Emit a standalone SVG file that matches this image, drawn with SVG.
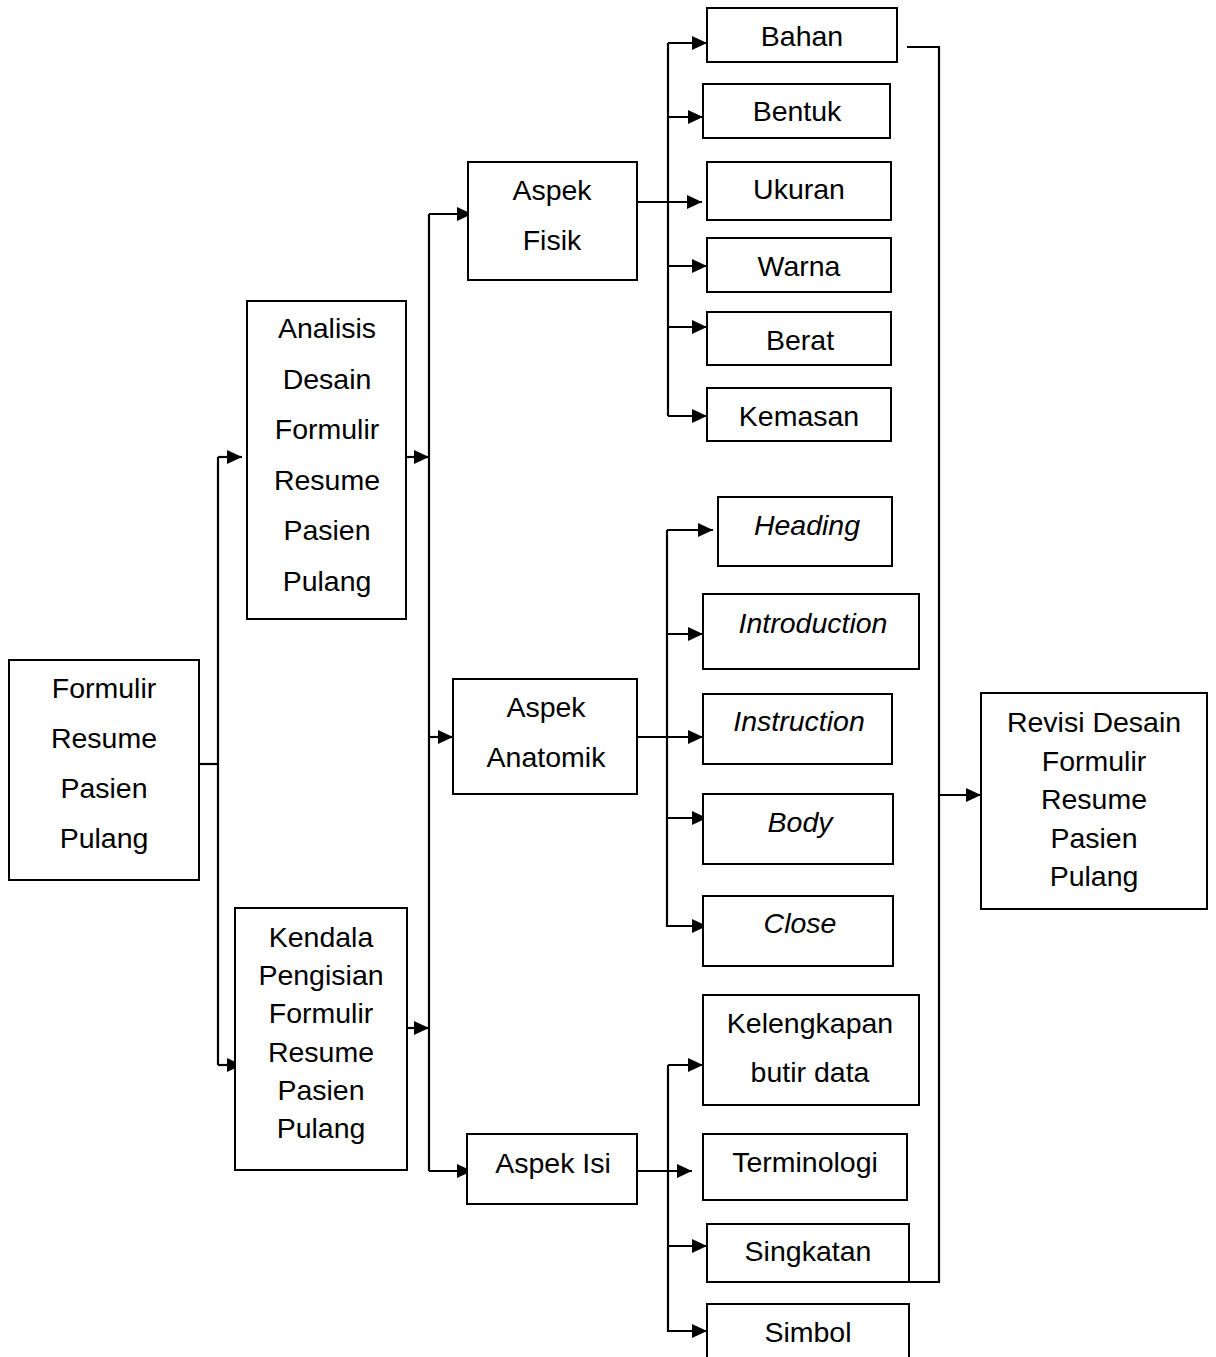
<svg xmlns="http://www.w3.org/2000/svg" width="1216" height="1357" viewBox="0 0 1216 1357">
<style>
.box{fill:#fff;stroke:#000;stroke-width:2}
.t{font-family:"Liberation Sans",Arial,sans-serif;font-size:28.5px;fill:#000;text-anchor:middle}
.i{font-style:italic}
.c{fill:none;stroke:#000;stroke-width:2.2}
</style>
<defs>
<marker id="ar" markerUnits="userSpaceOnUse" viewBox="0 0 15 14" markerWidth="15" markerHeight="14" refX="15" refY="7" orient="auto">
<path d="M0,0 L15,7 L0,14 z" fill="#000"/>
</marker>
</defs>
<rect width="1216" height="1357" fill="#fff"/>
<g id="connectors">
<path class="c" d="M199,764 H218"/>
<path class="c" d="M218,457 V1065"/>
<path class="c" d="M218,457 H242" marker-end="url(#ar)"/>
<path class="c" d="M218,1065 H242" marker-end="url(#ar)"/>
<path class="c" d="M406,457 H429" marker-end="url(#ar)"/>
<path class="c" d="M407,1028 H429" marker-end="url(#ar)"/>
<path class="c" d="M429,214 V1171"/>
<path class="c" d="M429,214 H472" marker-end="url(#ar)"/>
<path class="c" d="M429,737 H453" marker-end="url(#ar)"/>
<path class="c" d="M429,1171 H472" marker-end="url(#ar)"/>
<path class="c" d="M637,202 H702" marker-end="url(#ar)"/>
<path class="c" d="M668,43 V416"/>
<path class="c" d="M668,43 H707" marker-end="url(#ar)"/>
<path class="c" d="M668,117 H703" marker-end="url(#ar)"/>
<path class="c" d="M668,266 H707" marker-end="url(#ar)"/>
<path class="c" d="M668,327 H707" marker-end="url(#ar)"/>
<path class="c" d="M668,416 H707" marker-end="url(#ar)"/>
<path class="c" d="M637,737 H703" marker-end="url(#ar)"/>
<path class="c" d="M667,530 V927"/>
<path class="c" d="M667,530 H713" marker-end="url(#ar)"/>
<path class="c" d="M667,634 H703" marker-end="url(#ar)"/>
<path class="c" d="M667,818 H707" marker-end="url(#ar)"/>
<path class="c" d="M667,926 H707" marker-end="url(#ar)"/>
<path class="c" d="M637,1171 H692" marker-end="url(#ar)"/>
<path class="c" d="M668,1065 V1332"/>
<path class="c" d="M668,1065 H703" marker-end="url(#ar)"/>
<path class="c" d="M668,1246 H707" marker-end="url(#ar)"/>
<path class="c" d="M668,1331 H707" marker-end="url(#ar)"/>
<path class="c" d="M907,47 H939 V1282 H909"/>
<path class="c" d="M939,795 H981" marker-end="url(#ar)"/>
</g>
<g id="formulir">
<rect class="box" x="9" y="660" width="190" height="220"/>
<text class="t" x="104" y="698">Formulir</text>
<text class="t" x="104" y="748">Resume</text>
<text class="t" x="104" y="798">Pasien</text>
<text class="t" x="104" y="848">Pulang</text>
</g>
<g id="analisis">
<rect class="box" x="247" y="301" width="159" height="318"/>
<text class="t" x="327" y="338">Analisis</text>
<text class="t" x="327" y="389">Desain</text>
<text class="t" x="327" y="439">Formulir</text>
<text class="t" x="327" y="490">Resume</text>
<text class="t" x="327" y="540">Pasien</text>
<text class="t" x="327" y="591">Pulang</text>
</g>
<g id="kendala">
<rect class="box" x="235" y="908" width="172" height="262"/>
<text class="t" x="321" y="947">Kendala</text>
<text class="t" x="321" y="985">Pengisian</text>
<text class="t" x="321" y="1023">Formulir</text>
<text class="t" x="321" y="1062">Resume</text>
<text class="t" x="321" y="1100">Pasien</text>
<text class="t" x="321" y="1138">Pulang</text>
</g>
<g id="aspek-fisik">
<rect class="box" x="468" y="162" width="169" height="118"/>
<text class="t" x="552" y="200">Aspek</text>
<text class="t" x="552" y="250">Fisik</text>
</g>
<g id="aspek-anatomik">
<rect class="box" x="453" y="679" width="184" height="115"/>
<text class="t" x="546" y="717">Aspek</text>
<text class="t" x="546" y="767">Anatomik</text>
</g>
<g id="aspek-isi">
<rect class="box" x="467" y="1134" width="170" height="70"/>
<text class="t" x="553" y="1173">Aspek Isi</text>
</g>
<g id="bahan">
<rect class="box" x="707" y="8" width="190" height="54"/>
<text class="t" x="802" y="46">Bahan</text>
</g>
<g id="bentuk">
<rect class="box" x="703" y="84" width="187" height="54"/>
<text class="t" x="797" y="121">Bentuk</text>
</g>
<g id="ukuran">
<rect class="box" x="707" y="162" width="184" height="58"/>
<text class="t" x="799" y="199">Ukuran</text>
</g>
<g id="warna">
<rect class="box" x="707" y="238" width="184" height="54"/>
<text class="t" x="799" y="276">Warna</text>
</g>
<g id="berat">
<rect class="box" x="707" y="312" width="184" height="53"/>
<text class="t" x="800" y="350">Berat</text>
</g>
<g id="kemasan">
<rect class="box" x="707" y="388" width="184" height="53"/>
<text class="t" x="799" y="426">Kemasan</text>
</g>
<g id="heading">
<rect class="box" x="718" y="497" width="174" height="69"/>
<text class="t i" x="807" y="535">Heading</text>
</g>
<g id="introduction">
<rect class="box" x="703" y="594" width="216" height="75"/>
<text class="t i" x="813" y="633">Introduction</text>
</g>
<g id="instruction">
<rect class="box" x="703" y="694" width="189" height="70"/>
<text class="t i" x="799" y="731">Instruction</text>
</g>
<g id="body">
<rect class="box" x="703" y="794" width="190" height="70"/>
<text class="t i" x="800" y="832">Body</text>
</g>
<g id="close">
<rect class="box" x="703" y="896" width="190" height="70"/>
<text class="t i" x="800" y="933">Close</text>
</g>
<g id="kelengkapan">
<rect class="box" x="703" y="995" width="216" height="110"/>
<text class="t" x="810" y="1033">Kelengkapan</text>
<text class="t" x="810" y="1082">butir data</text>
</g>
<g id="terminologi">
<rect class="box" x="703" y="1134" width="204" height="66"/>
<text class="t" x="805" y="1172">Terminologi</text>
</g>
<g id="singkatan">
<rect class="box" x="707" y="1224" width="202" height="58"/>
<text class="t" x="808" y="1261">Singkatan</text>
</g>
<g id="simbol">
<rect class="box" x="707" y="1304" width="202" height="70"/>
<text class="t" x="808" y="1342">Simbol</text>
</g>
<g id="revisi">
<rect class="box" x="981" y="693" width="226" height="216"/>
<text class="t" x="1094" y="732">Revisi Desain</text>
<text class="t" x="1094" y="771">Formulir</text>
<text class="t" x="1094" y="809">Resume</text>
<text class="t" x="1094" y="848">Pasien</text>
<text class="t" x="1094" y="886">Pulang</text>
</g>
</svg>
